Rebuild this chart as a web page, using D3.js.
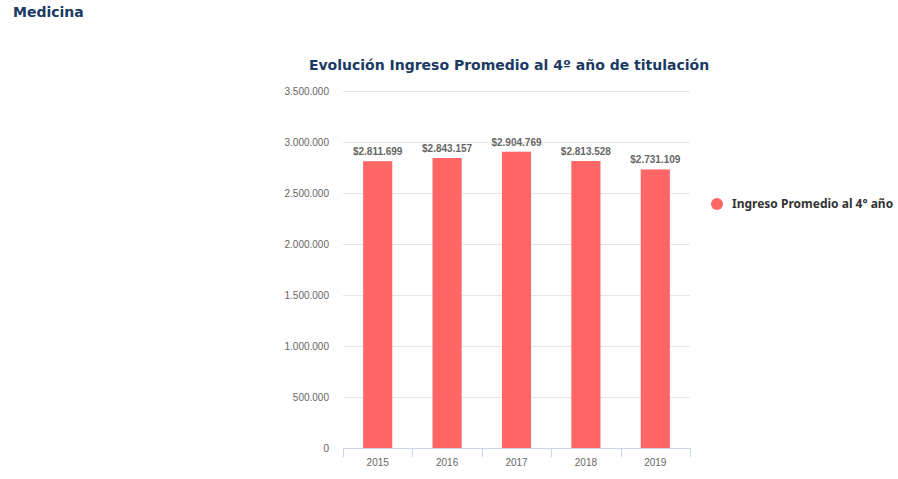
<!DOCTYPE html>
<html><head><meta charset="utf-8">
<script src="https://cdn.jsdelivr.net/npm/d3@7"></script>
<style>body{margin:0;background:#fff;}svg{display:block;}</style>
</head><body>
<svg id="chart" width="898" height="479"></svg>
<script>
const categories = ["2015","2016","2017","2018","2019"];
const values = [2811699, 2843157, 2904769, 2813528, 2731109];
const yTicks = [0,500000,1000000,1500000,2000000,2500000,3000000,3500000];
const seriesName = "Ingreso Promedio al 4° año";
const title = "Evolución Ingreso Promedio al 4º año de titulación";
const pageTitle = "Medicina";

const fmt = v => d3.format(",")(v).replace(/,/g, ".");
const svg = d3.select("#chart");
const m = {left:343, right:690, top:91, bottom:448};
const x = d3.scaleBand().domain(categories).range([m.left, m.right]).paddingInner(0.58).paddingOuter(0.29);
const xb = d3.scaleBand().domain(categories).range([m.left, m.right]);
const y = d3.scaleLinear().domain([0,3500000]).range([m.bottom, m.top]);

svg.append("text").attr("x",13).attr("y",17).text(pageTitle)
  .attr("font-family","DejaVu Sans").attr("font-weight","bold").attr("font-size",14).attr("fill","#1b3a63");
svg.append("text").attr("x",509).attr("y",70).attr("text-anchor","middle").text(title)
  .attr("font-family","DejaVu Sans").attr("font-weight","bold").attr("font-size",14).attr("fill","#1b3a63");

// grid
svg.append("g").selectAll("line").data(yTicks.filter(d=>d>0)).join("line")
  .attr("x1",m.left).attr("x2",m.right).attr("y1",d=>Math.round(y(d))+0.5).attr("y2",d=>Math.round(y(d))+0.5)
  .attr("stroke","#e6e6e6");

// y axis
const ya = svg.append("g").attr("transform",`translate(${m.left-14},0)`)
  .call(d3.axisLeft(y).tickValues(yTicks).tickFormat(fmt).tickSize(0).tickPadding(0));
ya.select(".domain").remove();
ya.selectAll("text").attr("font-family","Liberation Sans, Arial").attr("font-size",10).attr("fill","#666").attr("dy","0.32em");

// x axis
const xa = svg.append("g").attr("transform",`translate(0,${m.bottom+0.5})`)
  .call(d3.axisBottom(x).tickSize(0).tickPadding(10));
xa.select(".domain").attr("stroke","#ccd6eb").attr("d",`M${m.left},0H${m.right}`);
xa.selectAll("text").attr("font-family","Liberation Sans, Arial").attr("font-size",10).attr("fill","#666");
svg.append("g").selectAll("line").data(categories.concat(["end"])).join("line")
  .attr("x1",(d,i)=>Math.round(i<categories.length?xb(d):m.right)+0.5)
  .attr("x2",(d,i)=>Math.round(i<categories.length?xb(d):m.right)+0.5)
  .attr("y1",m.bottom).attr("y2",m.bottom+9).attr("stroke","#ccd6eb");

// bars
svg.append("g").selectAll("rect").data(values).join("rect")
  .attr("x",(d,i)=>x(categories[i])).attr("width",x.bandwidth())
  .attr("y",d=>y(d)).attr("height",d=>y(0)-y(d)).attr("fill","#ff6666");

svg.append("g").selectAll("text").data(values).join("text")
  .attr("x",(d,i)=>x(categories[i])+x.bandwidth()/2).attr("y",d=>y(d)-6)
  .attr("text-anchor","middle").text(d=>"$"+fmt(d))
  .attr("font-family","Liberation Sans, Arial").attr("font-weight","bold").attr("font-size",10).attr("fill","#666");

// legend
const lg = svg.append("g");
lg.append("circle").attr("cx",717).attr("cy",204).attr("r",6).attr("fill","#ff6666");
lg.append("text").attr("x",732).attr("y",208).text(seriesName)
  .attr("font-family","Noto Sans").attr("font-weight","bold").attr("font-size",12).attr("fill","#333");
</script>
</body></html>
